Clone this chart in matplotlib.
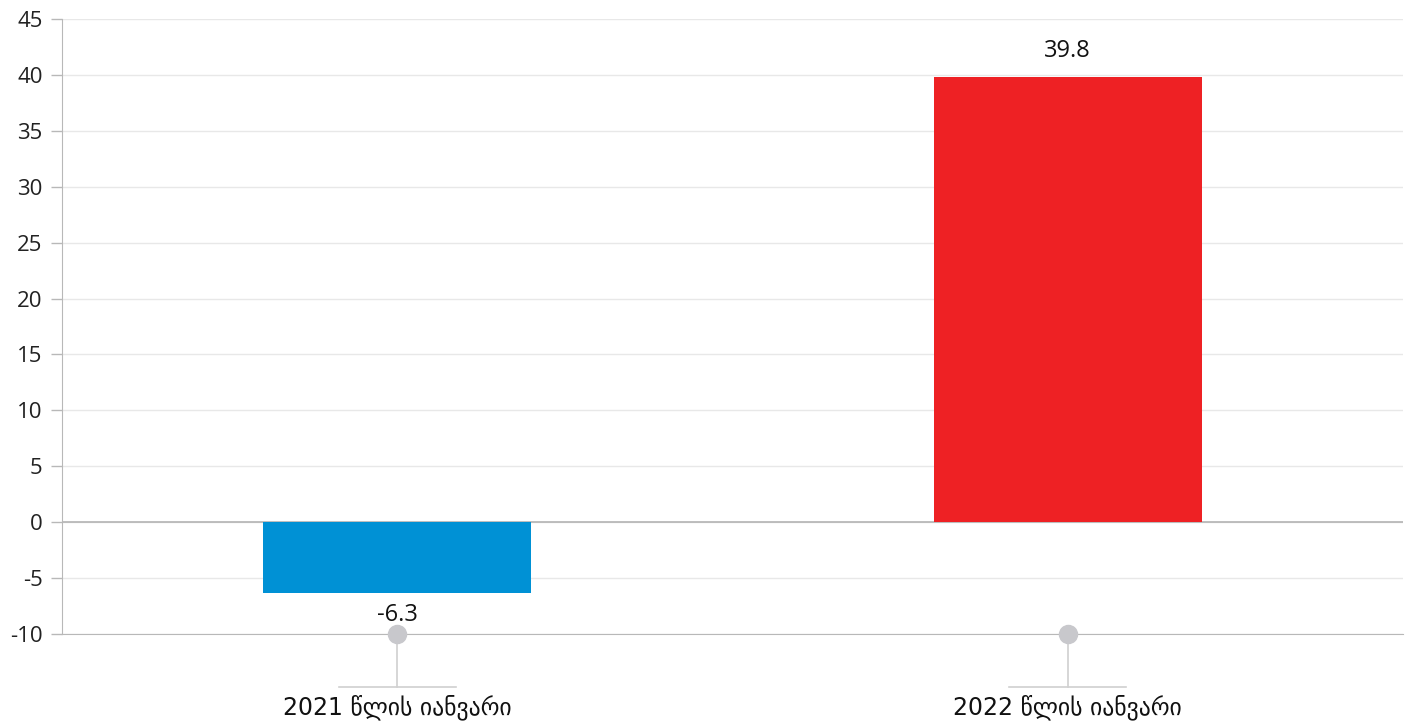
import matplotlib.pyplot as plt
import matplotlib.transforms as mtransforms

plt.rcParams['font.family'] = ['Open Sans', 'DejaVu Sans']

categories = ["2021 წლის იანვარი", "2022 წლის იანვარი"]
values = [-6.3, 39.8]
colors = ["#0091d5", "#ee2124"]
yticks = list(range(-10, 50, 5))

fig = plt.figure(figsize=(14.07, 7.22), dpi=100)
ax = fig.add_axes([0.0441, 0.1219, 0.953, 0.8518])

pos = list(range(len(categories)))
bars = ax.bar(pos, values, width=0.4, color=colors, zorder=3)

ax.set_xlim(-0.5, 1.5)
ax.set_ylim(-10, 45)
ax.set_yticks(yticks)
ax.set_yticklabels([str(t) for t in yticks])
ax.tick_params(axis='y', length=8, width=1, color="#b8b8b8", labelsize=16, pad=6, labelcolor="#222222")
ax.set_xticks([])

ax.grid(axis='y', color="#e8e8e8", linewidth=1, zorder=0)
ax.axhline(0, color="#b4b4b4", linewidth=1.2, zorder=2)
for side in ["top", "right"]:
    ax.spines[side].set_visible(False)
ax.spines["left"].set_color("#b8b8b8")
ax.spines["bottom"].set_color("#b8b8b8")

# value labels
for p, v in zip(pos, values):
    off = 19 if v >= 0 else -16
    ax.annotate(f"{v:.1f}", (p, v), xytext=(0, off), textcoords="offset points",
                ha="center", va="center", fontsize=17, color="#111111")

# custom category ticks: dot, stem, crossbar, label
trans = mtransforms.blended_transform_factory(ax.transData, ax.transAxes)
ftrans = mtransforms.blended_transform_factory(ax.transData, fig.transFigure)
for p, lab in zip(pos, categories):
    ax.plot([p, p], [0, -0.086], transform=trans, color="#d0d0d0", lw=1.2, clip_on=False, zorder=4)
    ax.plot([p - 0.087, p + 0.087], [-0.086, -0.086], transform=trans, color="#d0d0d0", lw=1.2, clip_on=False)
    ax.plot([p], [0], transform=trans, marker="o", markersize=13, color="#c8c8cc", clip_on=False, zorder=5)
    ax.text(p, 0.003, lab, transform=ftrans, ha="center", va="bottom", fontsize=17,
            family=['DejaVu Sans'], color="#111111")

fig.savefig("out.png", dpi=100)
